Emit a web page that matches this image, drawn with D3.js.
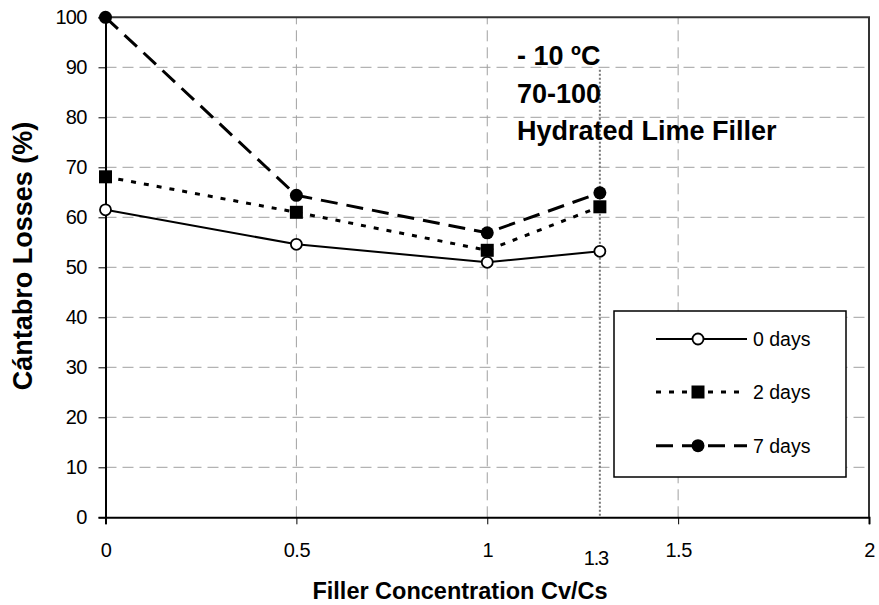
<!DOCTYPE html>
<html>
<head>
<meta charset="utf-8">
<script src="https://cdn.jsdelivr.net/npm/d3@7"></script>
<style>
  body { margin: 0; background: #fff; }
  svg { display: block; font-family: "Liberation Sans", Arial, sans-serif; }
</style>
</head>
<body>
<svg id="chart" width="879" height="605"></svg>
<script>
// ---- data ----
const xValues = [0, 0.5, 1, 1.295];
const days0 = [61.5, 54.6, 51.0, 53.2];
const days2 = [68.1, 61.0, 53.4, 62.1];
const days7 = [100, 64.4, 56.9, 64.9];
const seriesNames = ["0 days", "2 days", "7 days"];
const xTicks = [0, 0.5, 1, 1.5, 2];
const xTickLabels = ["0", "0.5", "1", "1.5", "2"];
const yTicks = [0, 10, 20, 30, 40, 50, 60, 70, 80, 90, 100];
const extraXLabel = { value: 1.295, text: "1.3" };
const refLineX = 1.295;
const annotations = ["- 10 ºC", "70-100", "Hydrated Lime Filler"];

const svg = d3.select("#chart");
const x = d3.scaleLinear().domain([0, 2]).range([105.5, 869]);
const y = d3.scaleLinear().domain([0, 100]).range([517.3, 17.3]);

// gridlines
svg.append("g").selectAll("line").data(yTicks.filter(d => d > 0 && d < 100)).join("line")
  .attr("x1", x(0)).attr("x2", x(2)).attr("y1", d => y(d)).attr("y2", d => y(d))
  .attr("stroke", "#a0a0a0").attr("stroke-width", 1).attr("stroke-dasharray", "11,6");
svg.append("g").selectAll("line").data(xTicks.filter(d => d > 0 && d < 2)).join("line")
  .attr("x1", d => x(d)).attr("x2", d => x(d)).attr("y1", y(0)).attr("y2", y(100))
  .attr("stroke", "#a0a0a0").attr("stroke-width", 1).attr("stroke-dasharray", "11,6");

// reference dotted line
svg.append("line")
  .attr("x1", x(refLineX)).attr("x2", x(refLineX)).attr("y1", y(89.5)).attr("y2", y(0))
  .attr("stroke", "#777").attr("stroke-width", 2).attr("stroke-dasharray", "2,2");

// plot border (top & right)
svg.append("path")
  .attr("d", `M${x(0)},${y(100)}H${x(2)}V${y(0)}`)
  .attr("fill", "none").attr("stroke", "#333").attr("stroke-width", 2);

// axes
const yAxis = d3.axisLeft(y).tickValues(yTicks).tickSize(7).tickPadding(12).tickFormat(d3.format("d"));
const gy = svg.append("g").attr("transform", `translate(${x(0)},0)`).call(yAxis);
gy.select(".domain").attr("stroke", "#000").attr("stroke-width", 2);
gy.selectAll(".tick line").attr("stroke", "#000").attr("stroke-width", 1);
gy.selectAll(".tick text").attr("font-size", 20).attr("fill", "#000").attr("font-family", "Liberation Sans, Arial, sans-serif")
  .attr("letter-spacing", "-0.8");

const xAxis = d3.axisBottom(x).tickValues(xTicks).tickSize(7).tickFormat((d, i) => xTickLabels[i]);
const gx = svg.append("g").attr("transform", `translate(0,${y(0)})`).call(xAxis);
gx.select(".domain").attr("stroke", "#000").attr("stroke-width", 2);
gx.selectAll(".tick line").attr("stroke", "#000").attr("stroke-width", 1);
gx.selectAll(".tick text").attr("font-size", 20).attr("fill", "#000").attr("font-family", "Liberation Sans, Arial, sans-serif")
  .attr("y", 40).attr("dy", 0).attr("letter-spacing", "-0.5");
svg.append("text").attr("x", x(extraXLabel.value) - 4).attr("y", y(0) + 48)
  .attr("text-anchor", "middle").attr("font-size", 20).attr("letter-spacing", "-1.2").text(extraXLabel.text);

// axis titles
svg.append("text").attr("x", 460).attr("y", 599).attr("text-anchor", "middle")
  .attr("font-size", 23.5).attr("font-weight", "bold").text("Filler Concentration Cv/Cs");
svg.append("text").attr("transform", "translate(32,256) rotate(-90)").attr("text-anchor", "middle")
  .attr("font-size", 27).attr("font-weight", "bold").text("Cántabro Losses (%)");

// series
const styles = [
  { data: days0, dash: null, width: 2, marker: "open" },
  { data: days2, dash: "5,8", width: 3, marker: "square" },
  { data: days7, dash: "17,9", width: 3, marker: "filled" }
];
const line = d3.line().x((d, i) => x(xValues[i])).y(d => y(d));

function drawMarker(g, type, cx, cy) {
  if (type === "open") {
    g.append("circle").attr("cx", cx).attr("cy", cy).attr("r", 5.5)
      .attr("fill", "#fff").attr("stroke", "#000").attr("stroke-width", 1.8);
  } else if (type === "square") {
    g.append("rect").attr("x", cx - 6.5).attr("y", cy - 6.5).attr("width", 13).attr("height", 13).attr("fill", "#000");
  } else {
    g.append("circle").attr("cx", cx).attr("cy", cy).attr("r", 6.5).attr("fill", "#000");
  }
}

styles.forEach(s => {
  svg.append("path").datum(s.data).attr("d", line)
    .attr("fill", "none").attr("stroke", "#000").attr("stroke-width", s.width)
    .attr("stroke-dasharray", s.dash);
});
styles.forEach(s => {
  const g = svg.append("g");
  s.data.forEach((v, i) => drawMarker(g, s.marker, x(xValues[i]), y(v)));
});

// annotations
annotations.forEach((t, i) => {
  svg.append("text").attr("x", 517).attr("y", 65 + i * 37.5)
    .attr("font-size", 27).attr("font-weight", "bold").text(t);
});

// legend
const lg = svg.append("g");
lg.append("rect").attr("x", 614).attr("y", 311).attr("width", 232).attr("height", 166)
  .attr("fill", "#fff").attr("stroke", "#000").attr("stroke-width", 1.5);
const rowsY = [339, 392, 445.7];
styles.forEach((s, i) => {
  const ry = rowsY[i];
  lg.append("line").attr("x1", 656).attr("x2", 747).attr("y1", ry).attr("y2", ry)
    .attr("stroke", "#000").attr("stroke-width", s.width).attr("stroke-dasharray", s.dash);
  drawMarker(lg, s.marker, 698, ry);
  lg.append("text").attr("x", 753).attr("y", ry).attr("dy", "0.35em")
    .attr("font-size", 19.5).text(seriesNames[i]);
});
</script>
</body>
</html>
